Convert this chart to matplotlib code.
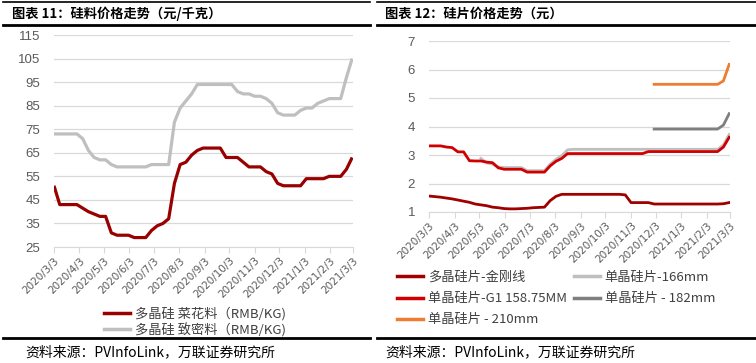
import datetime as dt
import matplotlib
matplotlib.use("Agg")
import matplotlib.pyplot as plt
from matplotlib.lines import Line2D
import numpy as np

plt.rcParams['font.family'] = ['Noto Sans CJK SC', 'DejaVu Sans']

# --- data (weekly, 2020/3/3 -> 2021/3/3) ---
start = dt.date(2020, 3, 3)
weeks = [start + dt.timedelta(days=7 * i) for i in range(53)]

poly_cauliflower = [51, 43, 43, 43, 43, 41.5, 40, 39, 38, 38,
                    31, 30, 30, 30, 29, 29, 29, 32, 34, 35,
                    37, 52, 60, 61, 64, 66, 67, 67, 67, 67,
                    63, 63, 63, 61, 59, 59, 59, 57, 56, 52,
                    51, 51, 51, 51, 54, 54, 54, 54, 55, 55,
                    55, 58, 63]
poly_dense = [73, 73, 73, 73, 73, 71, 66, 63, 62, 62,
              60, 59, 59, 59, 59, 59, 59, 60, 60, 60,
              60, 78, 84, 87, 90, 94, 94, 94, 94, 94,
              94, 94, 91, 90, 90, 89, 89, 88, 86, 82,
              81, 81, 81, 83, 84, 84, 86, 87, 88, 88,
              88, 97, 105]

multi_wafer = [1.56, 1.54, 1.52, 1.49, 1.46, 1.42, 1.38, 1.34, 1.28, 1.25,
               1.22, 1.17, 1.15, 1.12, 1.11, 1.11, 1.12, 1.13, 1.15, 1.16,
               1.17, 1.40, 1.55, 1.62, 1.62, 1.62, 1.62, 1.62, 1.62, 1.62,
               1.62, 1.62, 1.62, 1.62, 1.60, 1.33, 1.33, 1.33, 1.33, 1.28,
               1.28, 1.28, 1.28, 1.28, 1.28, 1.28, 1.28, 1.28, 1.28, 1.28,
               1.28, 1.29, 1.33]
mono_g1 = [3.32, 3.32, 3.32, 3.28, 3.26, 3.11, 3.11, 2.80, 2.79, 2.79,
           2.75, 2.73, 2.55, 2.50, 2.50, 2.50, 2.50, 2.40, 2.40, 2.40,
           2.40, 2.62, 2.78, 2.88, 3.05, 3.05, 3.05, 3.05, 3.05, 3.05,
           3.05, 3.05, 3.05, 3.05, 3.05, 3.05, 3.05, 3.05, 3.12, 3.12,
           3.12, 3.12, 3.12, 3.12, 3.12, 3.12, 3.12, 3.12, 3.12, 3.12,
           3.12, 3.28, 3.62]
nan = np.nan
mono_166 = [nan] * 9 + [2.88, 2.72, 2.68, 2.58, 2.56, 2.56, 2.56, 2.56, 2.45, 2.45,
                        2.45, 2.45, 2.68, 2.85, 2.98, 3.18] + [3.2] * 26 + [3.35, 3.72]
mono_182 = [nan] * 39 + [3.91] * 12 + [4.05, 4.45]
mono_210 = [nan] * 39 + [5.48] * 12 + [5.60, 6.18]

month_ticks = [dt.date(2020, m, 3) for m in range(3, 13)] + [dt.date(2021, m, 3) for m in range(1, 4)]
tick_labels = [f"{d.year}/{d.month}/{d.day}" for d in month_ticks]

W, H = 756, 363
fig = plt.figure(figsize=(W / 100, H / 100), dpi=100)


def px_axes(x0, y_top, x1, y_bot):
    return fig.add_axes([x0 / W, 1 - y_bot / H, (x1 - x0) / W, (y_bot - y_top) / H])


def style_axes(ax, ylim, yticks):
    ax.set_ylim(*ylim)
    ax.set_yticks(yticks)
    ax.set_xlim(start, dt.date(2021, 3, 3))
    ax.set_xticks(month_ticks)
    ax.set_xticklabels(tick_labels, rotation=45, ha='right', rotation_mode='anchor',
                       fontsize=7.5, color='#595959', family='DejaVu Sans')
    ax.tick_params(axis='y', length=0, labelsize=9.5, labelcolor='#595959', pad=10)
    ax.tick_params(axis='x', length=4, color='#D9D9D9', pad=2)
    for lab in ax.get_yticklabels():
        lab.set_family('Liberation Sans')
    ax.grid(axis='y', color='#D9D9D9', linewidth=0.9)
    for s in ['top', 'right', 'left']:
        ax.spines[s].set_visible(False)
    ax.spines['bottom'].set_color('#D9D9D9')
    ax.set_axisbelow(True)


# ---- left chart ----
ax1 = px_axes(54, 35, 353, 247)
style_axes(ax1, (25, 115), range(25, 116, 10))
ax1.plot(weeks, poly_dense, color='#BFBFBF', lw=2.3, solid_capstyle='butt')
ax1.plot(weeks, poly_cauliflower, color='#990000', lw=2.3, solid_capstyle='butt')

leg1 = [Line2D([], [], color='#990000', lw=2.5), Line2D([], [], color='#BFBFBF', lw=2.5)]
fig.legend(leg1, ['多晶硅 菜花料（RMB/KG)', '多晶硅 致密料（RMB/KG)'],
           loc='upper left', bbox_to_anchor=(104 / W, 1 - 307 / H), frameon=False,
           fontsize=9.5, handlelength=2.0, handletextpad=0.35, labelspacing=0.15,
           borderpad=0, borderaxespad=0, labelcolor='#404040')

# ---- right chart ----
ax2 = px_axes(429, 41, 730, 212)
style_axes(ax2, (1, 7), range(1, 8))
ax2.plot(weeks, multi_wafer, color='#A00000', lw=2.0)
ax2.plot(weeks, mono_166, color='#BFBFBF', lw=2.0)
ax2.plot(weeks, mono_g1, color='#D00000', lw=2.0)
ax2.plot(weeks, mono_182, color='#7F7F7F', lw=2.0)
ax2.plot(weeks, mono_210, color='#ED7D31', lw=2.0)

leg2 = [Line2D([], [], color='#A00000', lw=2.5),
        Line2D([], [], color='#D00000', lw=2.5),
        Line2D([], [], color='#ED7D31', lw=2.5),
        Line2D([], [], color='#BFBFBF', lw=2.5),
        Line2D([], [], color='#7F7F7F', lw=2.5)]
fig.legend(leg2, ['多晶硅片-金刚线', '单晶硅片-G1 158.75MM', '单晶硅片 - 210mm',
                  '单晶硅片-166mm', '单晶硅片 - 182mm'],
           ncol=2, loc='upper left', bbox_to_anchor=(397 / W, 1 - 271 / H), frameon=False,
           fontsize=9.5, handlelength=2.0, handletextpad=0.35, labelspacing=0.62,
           columnspacing=0.5, borderpad=0, borderaxespad=0, labelcolor='#404040')

# ---- titles, rules and source ----
fig.text(12 / W, 1 - 14 / H, '图表 11：硅料价格走势（元/千克）', fontsize=9.5, weight='bold',
         va='center', ha='left')
fig.text(385 / W, 1 - 14 / H, '图表 12：硅片价格走势（元）', fontsize=9.5, weight='bold',
         va='center', ha='left')

for x0, x1 in [(3, 370), (377, 756)]:
    fig.add_artist(Line2D([x0 / W, x1 / W], [1 - 1.5 / H, 1 - 1.5 / H], color='black', lw=1.2))
    fig.add_artist(Line2D([x0 / W, x1 / W], [1 - 25 / H, 1 - 25 / H], color='black', lw=2))
    fig.add_artist(Line2D([x0 / W, x1 / W], [1 - 338 / H, 1 - 338 / H], color='black', lw=2))

fig.text(25 / W, 1 - 352 / H, '资料来源：PVInfoLink，万联证券研究所', fontsize=10,
         style='italic', va='center', ha='left')
fig.text(385 / W, 1 - 352 / H, '资料来源：PVInfoLink，万联证券研究所', fontsize=10,
         style='italic', va='center', ha='left')

fig.savefig('out.png', dpi=100)
